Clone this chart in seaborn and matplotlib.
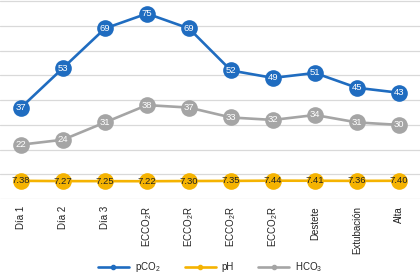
import pandas as pd
import matplotlib.pyplot as plt
import seaborn as sns
from matplotlib.lines import Line2D

categories = ['Día 1', 'Día 2', 'Día 3', r'ECCO$_2$R', r'ECCO$_2$R', r'ECCO$_2$R',
              r'ECCO$_2$R', 'Destete', 'Extubación', 'Alta']
pco2 = [37, 53, 69, 75, 69, 52, 49, 51, 45, 43]
ph = [7.38, 7.27, 7.25, 7.22, 7.30, 7.35, 7.44, 7.41, 7.36, 7.40]
hco3 = [22, 24, 31, 38, 37, 33, 32, 34, 31, 30]

series_names = [r'pCO$_2$', 'pH', r'HCO$_3$']
colors = ['#1f6cc0', '#f5b301', '#a5a5a5']
text_colors = ['white', '#222222', 'white']

sns.set_style('white')
plt.rcParams['font.family'] = ['Liberation Sans', 'DejaVu Sans']
plt.rcParams['mathtext.default'] = 'regular'

rows = []
for name, vals in zip(series_names, [pco2, ph, hco3]):
    for i, v in enumerate(vals):
        rows.append({'pos': i, 'value': v, 'serie': name})
df = pd.DataFrame(rows)

fig = plt.figure(figsize=(4.2, 2.8), dpi=100)
ax = fig.add_axes([0, 0.289, 1, 0.711])

for y in range(0, 90, 10):
    ax.axhline(y, color='#d9d9d9', lw=0.9, zorder=0)

sns.lineplot(data=df, x='pos', y='value', hue='serie', hue_order=series_names,
             palette=colors, marker='o', markersize=12, markeredgewidth=0,
             linewidth=1.9, legend=False, ax=ax, zorder=3)

for name, vals, tc in zip(series_names, [pco2, ph, hco3], text_colors):
    for i, v in enumerate(vals):
        lab = f'{v:.2f}' if name == 'pH' else f'{v}'
        ax.text(i, v, lab, ha='center', va='center', fontsize=6.8, color=tc, zorder=5)

ax.set_xlim(-0.5, len(categories) - 0.5)
ax.set_ylim(0, 80.5)
ax.set_xticks(range(len(categories)))
ax.set_xticklabels(categories, rotation=90, fontsize=7, color='#222222')
ax.tick_params(axis='x', length=0, pad=5)
ax.set_yticks([])
ax.set_xlabel('')
ax.set_ylabel('')
for s in ax.spines.values():
    s.set_visible(False)

handles = [Line2D([0], [0], color=c, lw=1.9, marker='o', markersize=3) for c in colors]
fig.legend(handles, series_names, loc='center', bbox_to_anchor=(0.5, 0.045), ncol=3,
           frameon=False, fontsize=7, handlelength=3.2, columnspacing=2.5, handletextpad=0.6)

fig.savefig('out.png', dpi=100)
